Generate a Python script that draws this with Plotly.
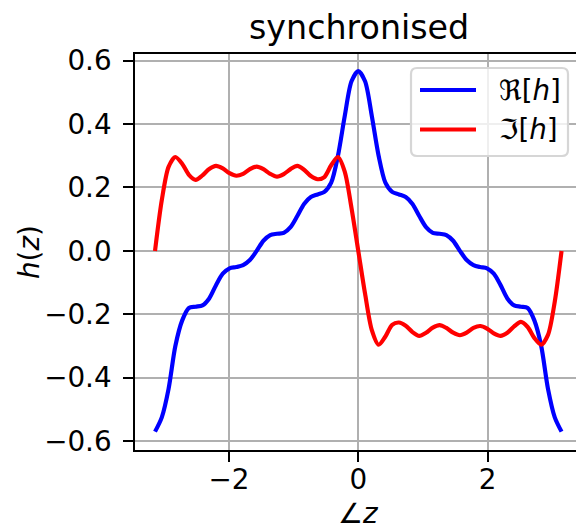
import numpy as np
import plotly.graph_objects as go

# Frequency grid: angle of z on the unit circle
angle = np.linspace(-np.pi, np.pi, 61)

# Real part of the synchronised response h(z)
re_h = [-0.570, -0.525, -0.435, -0.300, -0.220, -0.180, -0.176, -0.172, -0.150, -0.108,
        -0.072, -0.055, -0.051, -0.045, -0.029, 0.000, 0.032, 0.050, 0.054, 0.057,
        0.075, 0.110, 0.148, 0.170, 0.178, 0.186, 0.215, 0.300, 0.425, 0.535,
        0.567,
        0.535, 0.425, 0.300, 0.215, 0.186, 0.178, 0.170, 0.148, 0.110, 0.075,
        0.057, 0.054, 0.050, 0.032, 0.000, -0.029, -0.045, -0.051, -0.055, -0.072,
        -0.108, -0.150, -0.172, -0.176, -0.180, -0.220, -0.300, -0.435, -0.525, -0.570]

# Imaginary part of the synchronised response h(z)
im_h = [0.000, 0.160, 0.265, 0.296, 0.275, 0.240, 0.224, 0.238, 0.258, 0.268,
        0.260, 0.245, 0.237, 0.243, 0.258, 0.266, 0.258, 0.243, 0.234, 0.242,
        0.258, 0.268, 0.256, 0.236, 0.226, 0.233, 0.270, 0.296, 0.250, 0.135,
        0.000,
        -0.135, -0.250, -0.296, -0.270, -0.233, -0.226, -0.236, -0.256, -0.268, -0.258,
        -0.242, -0.234, -0.243, -0.258, -0.266, -0.258, -0.243, -0.237, -0.245, -0.260,
        -0.268, -0.258, -0.238, -0.224, -0.240, -0.275, -0.296, -0.265, -0.160, 0.000]

x_tick_vals = [-2, 0, 2]
x_tick_text = ["\u22122", "0", "2"]
y_tick_vals = [-0.6, -0.4, -0.2, 0.0, 0.2, 0.4, 0.6]
y_tick_text = ["\u22120.6", "\u22120.4", "\u22120.2", "0.0", "0.2", "0.4", "0.6"]

series_names = ["\u211c[<i>h</i>]", "\u2111[<i>h</i>]"]
series_colors = ["#0000ff", "#ff0000"]

W, H = 576, 529
L, R, T, B = 135, 0, 54, 79
PW, PH = W - L - R, H - T - B
FONT = "DejaVu Sans"
LW = 4.17


def px(xp, yp):
    """Pixel position on the page -> paper coordinates."""
    return (xp - L) / PW, (H - B - yp) / PH


fig = go.Figure()
for ys, name, col in zip([re_h, im_h], series_names, series_colors):
    fig.add_trace(go.Scatter(x=angle, y=ys, mode="lines", name=name,
                             line=dict(color=col, width=LW, shape="spline", smoothing=0.8),
                             showlegend=False))

axis_common = dict(showgrid=True, gridcolor="#b0b0b0", gridwidth=2.2, zeroline=False,
                   showline=True, linecolor="black", linewidth=2.2,
                   ticks="outside", ticklen=9.7, tickwidth=2.2, tickcolor="black",
                   tickfont=dict(family=FONT, size=27.8, color="black"))

fig.update_xaxes(range=[-3.451, 3.365], tickvals=x_tick_vals, ticktext=x_tick_text,
                 mirror=True, ticklabelstandoff=-6, **axis_common)
fig.update_yaxes(range=[-0.628, 0.621], tickvals=y_tick_vals, ticktext=y_tick_text,
                 ticklabelstandoff=6, **axis_common)

annotations = []
# title and axis labels
tx, ty = px(358.5, 27)
annotations.append(dict(text="synchronised", x=tx, y=ty, xref="paper", yref="paper",
                        xanchor="center", yanchor="middle", showarrow=False,
                        font=dict(family=FONT, size=33.3, color="black")))
lx, ly = px(358.5, 513)
annotations.append(dict(text="\u2220<i>z</i>", x=lx, y=ly, xref="paper", yref="paper",
                        xanchor="center", yanchor="middle", showarrow=False,
                        font=dict(family=FONT, size=27.8, color="black")))
yx, yy = px(29, 252)
annotations.append(dict(text="<i>h</i>(<i>z</i>)", x=yx, y=yy, xref="paper", yref="paper",
                        xanchor="center", yanchor="middle", showarrow=False, textangle=-90,
                        font=dict(family=FONT, size=27.8, color="black")))

shapes = []
# legend frame with rounded corners
x0, y0, x1, y1, r = 411, 68, 568, 156, 6


def P(xp, yp):
    a, b = px(xp, yp)
    return f"{a:.5f},{b:.5f}"


path = (f"M{P(x0 + r, y0)} L{P(x1 - r, y0)} Q{P(x1, y0)} {P(x1, y0 + r)} "
        f"L{P(x1, y1 - r)} Q{P(x1, y1)} {P(x1 - r, y1)} "
        f"L{P(x0 + r, y1)} Q{P(x0, y1)} {P(x0, y1 - r)} "
        f"L{P(x0, y0 + r)} Q{P(x0, y0)} {P(x0 + r, y0)} Z")
shapes.append(dict(type="path", path=path, xref="paper", yref="paper", layer="above",
                   fillcolor="rgba(255,255,255,0.8)", line=dict(color="#d6d6d6", width=2.2)))
for i, (name, col) in enumerate(zip(series_names, series_colors)):
    yrow = 90 + i * 39.5
    a0, b0 = px(420, yrow)
    a1, _ = px(476, yrow)
    shapes.append(dict(type="line", x0=a0, x1=a1, y0=b0, y1=b0, xref="paper", yref="paper",
                       layer="above", line=dict(color=col, width=LW)))
    ax_, ay_ = px(497, yrow)
    annotations.append(dict(text=name, x=ax_, y=ay_, xref="paper", yref="paper",
                            xanchor="left", yanchor="middle", showarrow=False,
                            font=dict(family=FONT, size=27.8, color="black")))

fig.update_layout(width=W, height=H, margin=dict(l=L, r=R, t=T, b=B, autoexpand=False),
                  paper_bgcolor="white", plot_bgcolor="white",
                  annotations=annotations, shapes=shapes, showlegend=False)

fig.write_html("out.html")
